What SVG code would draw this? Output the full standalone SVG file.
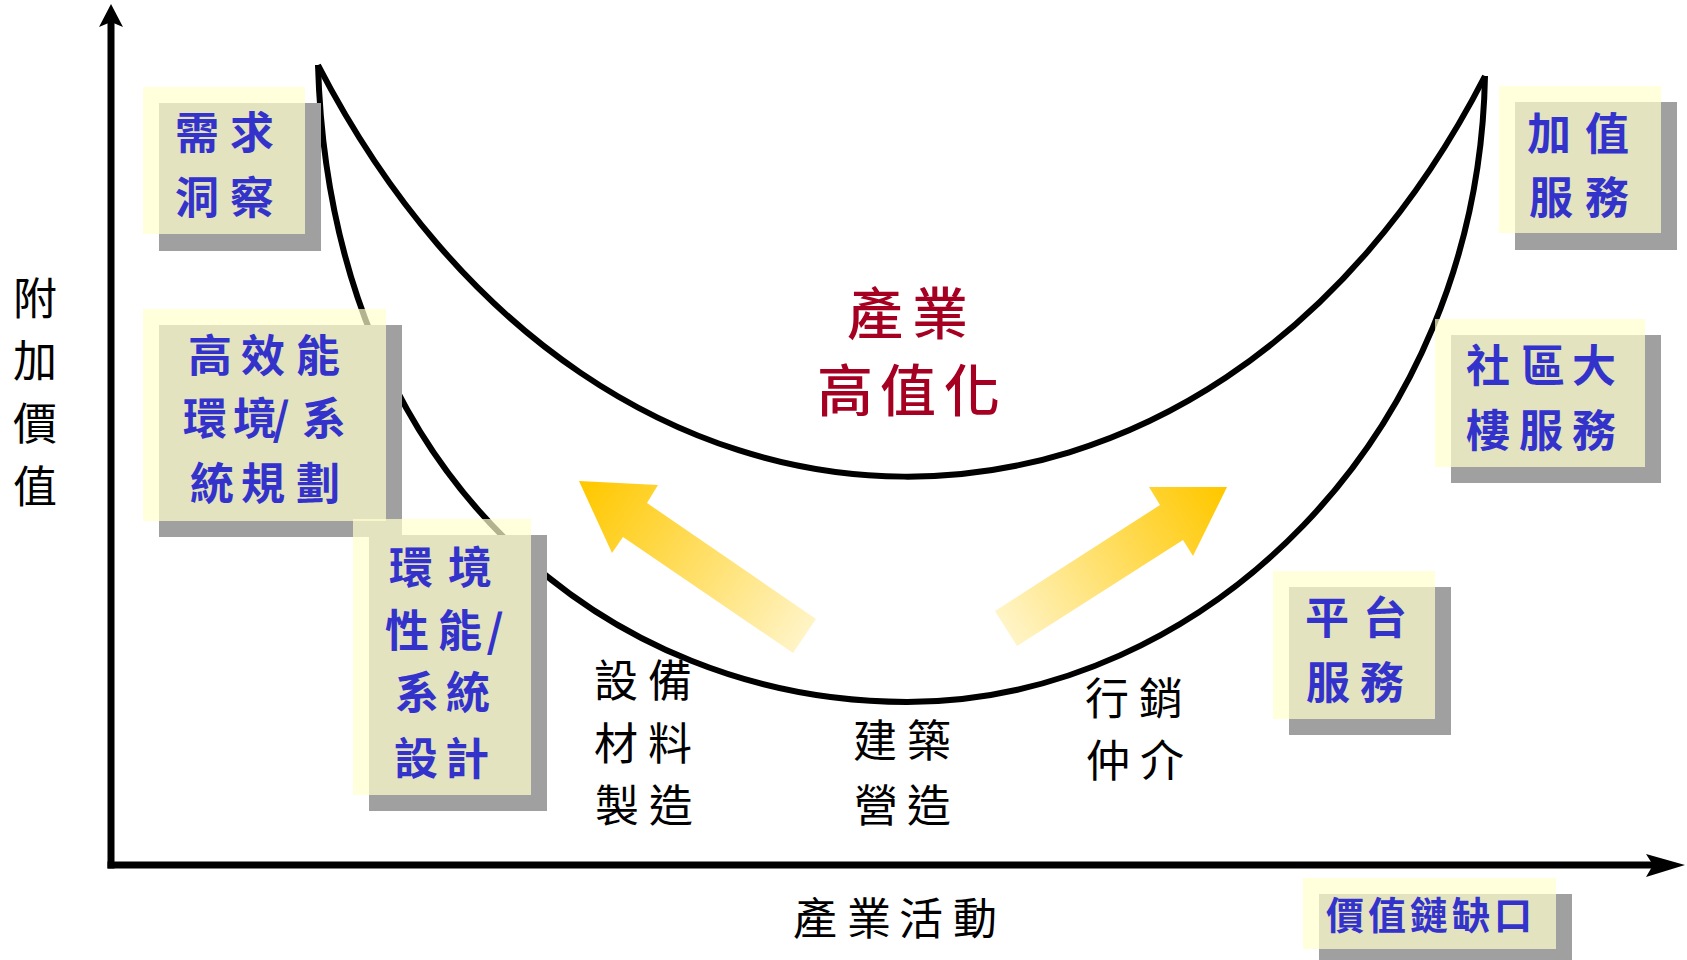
<svg xmlns="http://www.w3.org/2000/svg" width="1687" height="960" viewBox="0 0 1687 960">
<defs>
<style>
.sh{fill:#A0A0A0}
.bx{fill:#FFFFCD;fill-opacity:0.7}
.blue{font-family:"Noto Sans CJK TC","Noto Sans CJK SC",sans-serif;font-size:44px;font-weight:700;fill:#3333CC;text-anchor:middle}
.blk{font-family:"Noto Sans CJK TC","Noto Sans CJK SC",sans-serif;font-size:44px;font-weight:400;fill:#000;text-anchor:middle}
.red{font-family:"Noto Sans CJK TC","Noto Sans CJK SC",sans-serif;font-size:56px;font-weight:500;fill:#A50021;text-anchor:middle}
.curve{fill:none;stroke:#000;stroke-width:6}
.axis{fill:none;stroke:#000;stroke-width:7}
</style>
<linearGradient id="gL" gradientUnits="userSpaceOnUse" x1="585" y1="485" x2="805" y2="636">
<stop offset="0" stop-color="#FFC800"/>
<stop offset="1" stop-color="#FFF4C6"/>
</linearGradient>
<linearGradient id="gR" gradientUnits="userSpaceOnUse" x1="1220" y1="490" x2="1007" y2="628">
<stop offset="0" stop-color="#FFC800"/>
<stop offset="1" stop-color="#FFF4C6"/>
</linearGradient>
</defs>
<rect width="1687" height="960" fill="#FFFFFF"/>

<g id="connectors">
<line class="axis" x1="111" y1="868.5" x2="111" y2="22"/>
<polygon points="111,4 123,27 111,22 99,27" fill="#000"/>
<line class="axis" x1="107.5" y1="865" x2="1655" y2="865"/>
<polygon points="1685,865 1646,877 1653,865 1646,854" fill="#000"/>
<path class="curve" d="M318,65 C600,612 1210,612 1485,76"/>
<path class="curve" d="M318,65 C330,480 610,702 907,702 C1200,702 1478,440 1485,76"/>
<polygon id="arrow-left" fill="url(#gL)" points="579,481 658,485 647,503 816,619 793,653 623,537 612,553"/>
<polygon id="arrow-right" fill="url(#gR)" points="1227,487 1193,556 1183,540 1017,646 995,611 1160,505 1149,487"/>
</g>

<g id="label-yaxis">
<text class="blk"><tspan x="35" y="315">附</tspan><tspan x="35" y="377">加</tspan><tspan x="35" y="440">價</tspan><tspan x="35" y="503">值</tspan></text>
</g>
<g id="label-xaxis">
<text class="blk"><tspan x="815 869 921 975" y="935">產業活動</tspan></text>
</g>
<g id="label-center">
<text class="red"><tspan x="875 940" y="334">產業</tspan><tspan x="845 908 972" y="411">高值化</tspan></text>
</g>
<g id="label-equip">
<text class="blk"><tspan x="616 670" y="697">設備</tspan><tspan x="616 670" y="760">材料</tspan><tspan x="617 671" y="822">製造</tspan></text>
</g>
<g id="label-build">
<text class="blk"><tspan x="875 929" y="757">建築</tspan><tspan x="876 929" y="822">營造</tspan></text>
</g>
<g id="label-market">
<text class="blk"><tspan x="1107 1161" y="715">行銷</tspan><tspan x="1108 1162" y="777">仲介</tspan></text>
</g>

<g id="node-demand">
<rect class="sh" x="159" y="103" width="162" height="148"/>
<rect class="bx" x="143" y="87" width="162" height="147"/>
<text class="blue"><tspan x="197 252" y="149">需求</tspan><tspan x="197 252" y="214">洞察</tspan></text>
</g>

<g id="node-planning">
<rect class="sh" x="159" y="325" width="243" height="212"/>
<rect class="bx" x="143" y="309" width="243" height="212"/>
<text class="blue"><tspan x="210 263 318" y="372">高效能</tspan><tspan x="205 255 281 324" y="435">環境/系</tspan><tspan x="212 263 318" y="500">統規劃</tspan></text>
</g>

<g id="node-design">
<rect class="sh" x="369" y="535" width="178" height="276"/>
<rect class="bx" x="353" y="519" width="178" height="276"/>
<text class="blue"><tspan x="411 470" y="584">環境</tspan><tspan x="407 460 495" y="647">性能/</tspan><tspan x="417 468" y="709">系統</tspan><tspan x="416 467" y="775">設計</tspan></text>
</g>

<g id="node-valueadd">
<rect class="sh" x="1515" y="102" width="162" height="148"/>
<rect class="bx" x="1499" y="86" width="162" height="147"/>
<text class="blue"><tspan x="1549 1607" y="150">加值</tspan><tspan x="1551 1607" y="214">服務</tspan></text>
</g>

<g id="node-community">
<rect class="sh" x="1451" y="335" width="210" height="148"/>
<rect class="bx" x="1435" y="319" width="210" height="148"/>
<text class="blue"><tspan x="1488 1543 1594" y="382">社區大</tspan><tspan x="1488 1541 1594" y="447">樓服務</tspan></text>
</g>

<g id="node-platform">
<rect class="sh" x="1289" y="587" width="162" height="148"/>
<rect class="bx" x="1273" y="571" width="162" height="148"/>
<text class="blue"><tspan x="1327 1385" y="634">平台</tspan><tspan x="1328 1382" y="699">服務</tspan></text>
</g>

<g id="node-gap">
<rect class="sh" x="1319" y="894" width="253" height="71"/>
<rect class="bx" x="1303" y="878" width="253" height="71"/>
<text class="blue" style="font-size:38px"><tspan x="1345 1387 1429 1471 1513" y="929">價值鏈缺口</tspan></text>
</g>
</svg>
